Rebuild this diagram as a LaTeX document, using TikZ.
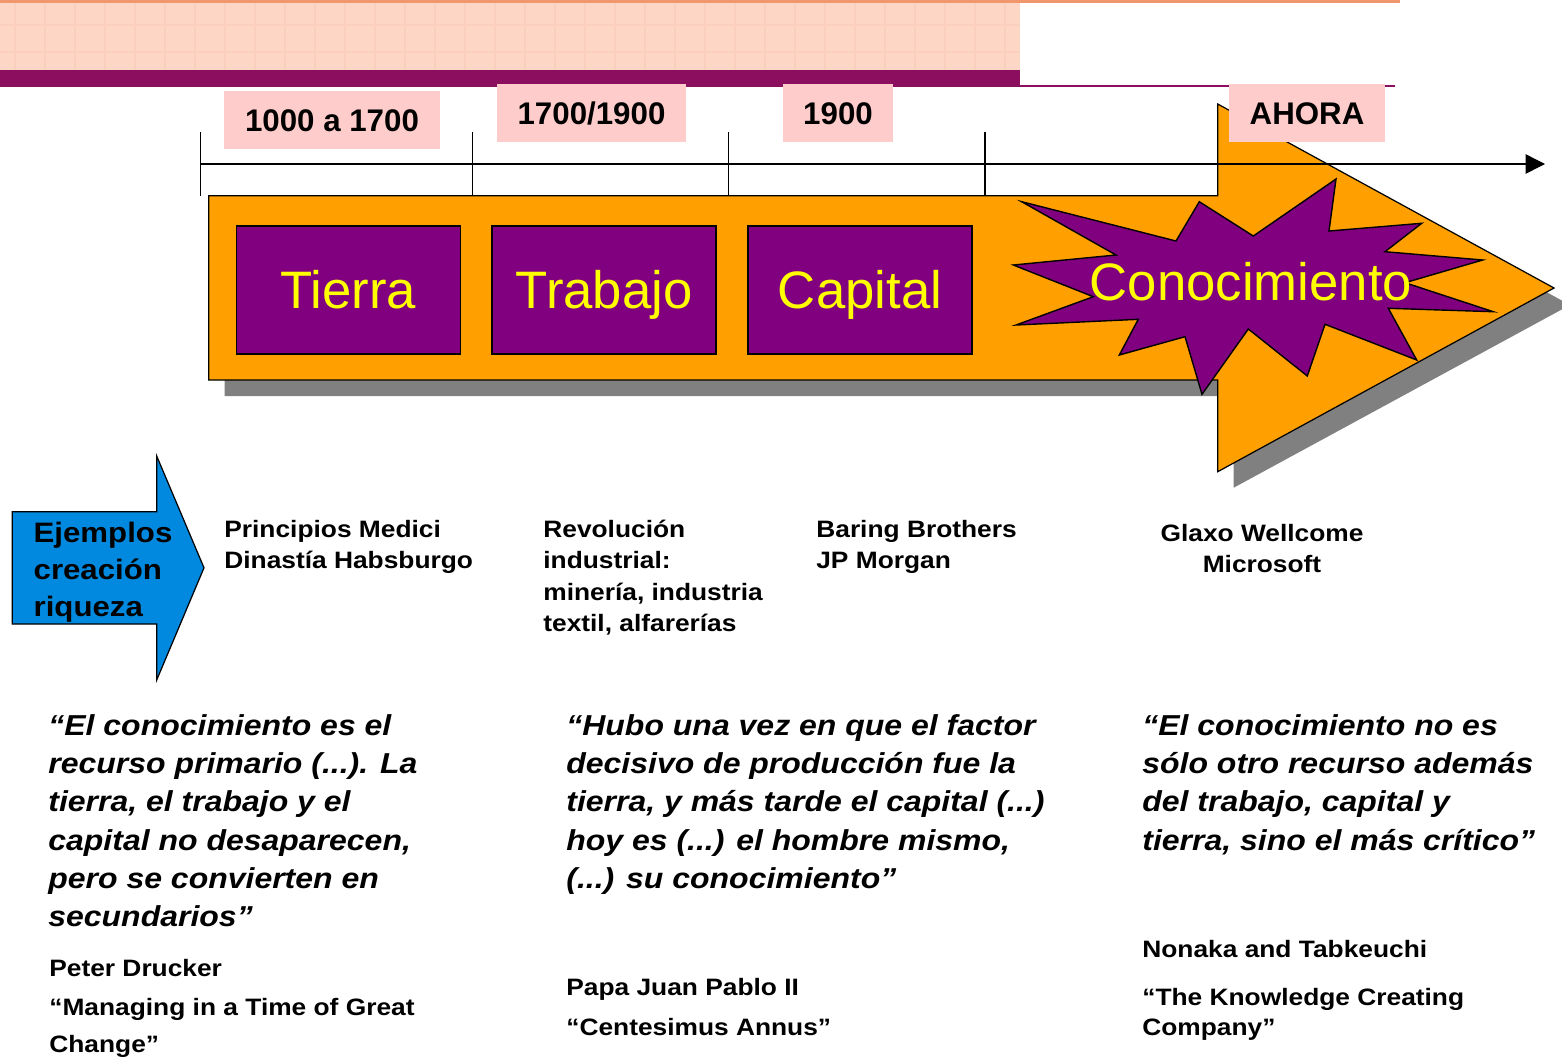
\documentclass[tikz,border=0pt]{standalone}
\usepackage{fontspec}
\setmainfont{Liberation Sans}
\newfontfamily\widefont{Liberation Sans}[FakeStretch=1.11]
\usetikzlibrary{arrows.meta, positioning}

\definecolor{peach}{RGB}{253,214,198}
\definecolor{peachline}{RGB}{251,207,190}
\definecolor{topline}{RGB}{242,150,110}
\definecolor{plum}{RGB}{139,15,94}
\definecolor{rosebox}{RGB}{255,204,204}
\definecolor{arroworange}{RGB}{255,160,0}
\definecolor{eraviolet}{RGB}{128,0,128}
\definecolor{shadowgray}{RGB}{128,128,128}
\definecolor{bluearrow}{RGB}{0,137,222}
\definecolor{ylw}{RGB}{255,255,0}

\begin{document}
\begin{tikzpicture}[x=0.02cm, y=-0.02cm, >=Stealth,
    erabox/.style={draw=black, line width=0.8pt, fill=eraviolet, text=ylw,
        font=\fontsize{30}{36}\selectfont, minimum width=4.48cm, minimum height=2.56cm,
        text height=21.5pt, text depth=0pt, inner sep=0pt},
    datebox/.style={fill=rosebox, font=\bfseries\fontsize{17.8}{21}\selectfont,
        inner sep=0pt, minimum height=1.16cm, text height=12.8pt, text depth=0pt},
    exampletxt/.style={anchor=north west, align=left, inner sep=0pt,
        font=\widefont\fontsize{13.5}{18}\selectfont\bfseries},
    quotetxt/.style={anchor=north west, align=left, inner sep=0pt,
        font=\widefont\fontsize{16.4}{21.8}\selectfont\bfseries\itshape},
    outline/.style={draw=black, line width=0.7pt}]
    \useasboundingbox (0,0) rectangle (1562,1056);

    % cabecera
    \fill[peach] (0,0) rectangle (1020,70);
    \foreach \gx in {15,45,...,1005}
        \draw[peachline, line width=1.2pt] (\gx,3) -- (\gx,70);
    \foreach \gy in {25,52}
        \draw[peachline, line width=1.2pt] (0,\gy) -- (1020,\gy);
    \fill[topline] (0,0) rectangle (1400,3);
    \fill[plum] (0,70) rectangle (1020,87);
    \draw[plum, line width=1pt] (1020,86) -- (1395,86);

    % flecha naranja
    \fill[shadowgray] (224.7,211.7) -- (1233.7,211.7) -- (1233.7,120) -- (1570,305)
        -- (1233.7,487.7) -- (1233.7,396) -- (224.7,396) -- cycle;
    \filldraw[outline, fill=arroworange] (208.7,195.7) -- (1217.7,195.7) -- (1217.7,104)
        -- (1554,288) -- (1217.7,471.7) -- (1217.7,380) -- (208.7,380) -- cycle;

    \foreach \t in {200.5,472.4,728.7,985}
        \draw[line width=0.8pt] (\t,131.7) -- (\t,196);
    \coordinate (tl0) at (200,164);
    \coordinate (tl1) at (1545,164);
    \draw[line width=0.8pt, -{Triangle[length=11pt,width=11pt]}] (tl0) -- (tl1);

    \node[erabox] (tierra) at (348.3,290) {Tierra};
    \node[erabox, right=0.61cm of tierra] (trabajo) {Trabajo};
    \node[erabox, right=0.61cm of trabajo] (capital) {Capital};

    \filldraw[outline, line width=0.8pt, fill=eraviolet] (1021.7,201.7) -- (1176,241)
        -- (1199.3,201.7) -- (1253.3,236) -- (1336,179) -- (1329,231) -- (1421.7,223.3)
        -- (1385,251.7) -- (1482.7,260) -- (1405,282.7) -- (1493.3,311.7) -- (1388.3,308.3)
        -- (1416.7,360) -- (1325,324.3) -- (1307.3,376) -- (1248.3,329) -- (1202,394.3)
        -- (1185,336.7) -- (1119.3,355) -- (1138.3,319.3) -- (1016,325) -- (1093.3,296.7)
        -- (1013.3,265) -- (1116,255) -- cycle;
    \node[text=ylw, font=\fontsize{30}{36}\selectfont, anchor=base, inner sep=0pt]
        (conoc) at (1251,300) {Conocimiento};

    \node[datebox, minimum width=4.32cm] (d1000) at (332,120) {1000 a 1700};
    \node[datebox, minimum width=3.78cm] (d1700) at (591.5,113) {1700/1900};
    \node[datebox, minimum width=2.2cm] (d1900) at (838,113) {1900};
    \node[datebox, minimum width=3.12cm] (dahora) at (1307,113) {AHORA};

    % flecha azul
    \filldraw[outline, fill=bluearrow] (12.3,511.7) -- (156.7,511.7) -- (156.7,456)
        -- (204,567.8) -- (156.7,680) -- (156.7,624) -- (12.3,624) -- cycle;
    \node[anchor=north west, align=left, inner sep=0pt,
        font=\widefont\fontsize{16}{21.3}\selectfont\bfseries]
        (ejemplos) at (33.3,515.5) {\strut Ejemplos\\creación\\riqueza};

    \node[exampletxt] (medici) at (224,514.6) {\strut Principios Medici\\Dinastía Habsburgo};
    \node[exampletxt] (revol) at (543,514.6)
        {\strut Revolución\\industrial:\\minería, industria\\textil, alfarerías};
    \node[exampletxt] (baring) at (816,514.6) {\strut Baring Brothers\\JP Morgan};
    \node[exampletxt, anchor=north, align=center] (glaxo) at (1262,518.6)
        {\strut Glaxo Wellcome\\Microsoft};

    \node[quotetxt] (qdrucker) at (48,708.2) {\strut “El conocimiento es el\\recurso primario (...). La\\tierra, el trabajo y el\\capital no desaparecen,\\pero se convierten en\\secundarios”};
    \node[quotetxt] (qpapa) at (566,708.2) {\strut “Hubo una vez en que el factor\\decisivo de producción fue la\\tierra, y más tarde el capital (...)\\hoy es (...) el hombre mismo,\\(...) su conocimiento”};
    \node[quotetxt] (qnonaka) at (1142,708.2) {\strut “El conocimiento no es\\sólo otro recurso además\\del trabajo, capital y\\tierra, sino el más crítico”};

    \node[exampletxt] (drucker) at (49,953.9)
        {\strut Peter Drucker\\[4.2pt]“Managing in a Time of Great\\[2.9pt]Change”};
    \node[exampletxt] (papa) at (566,972.9) {\strut Papa Juan Pablo II\\[4.8pt]“Centesimus Annus”};
    \node[exampletxt] (nonaka) at (1142,934.6)
        {\strut Nonaka and Tabkeuchi\\[9.5pt]“The Knowledge Creating\\[-0.9pt]Company”};
\end{tikzpicture}
\end{document}
